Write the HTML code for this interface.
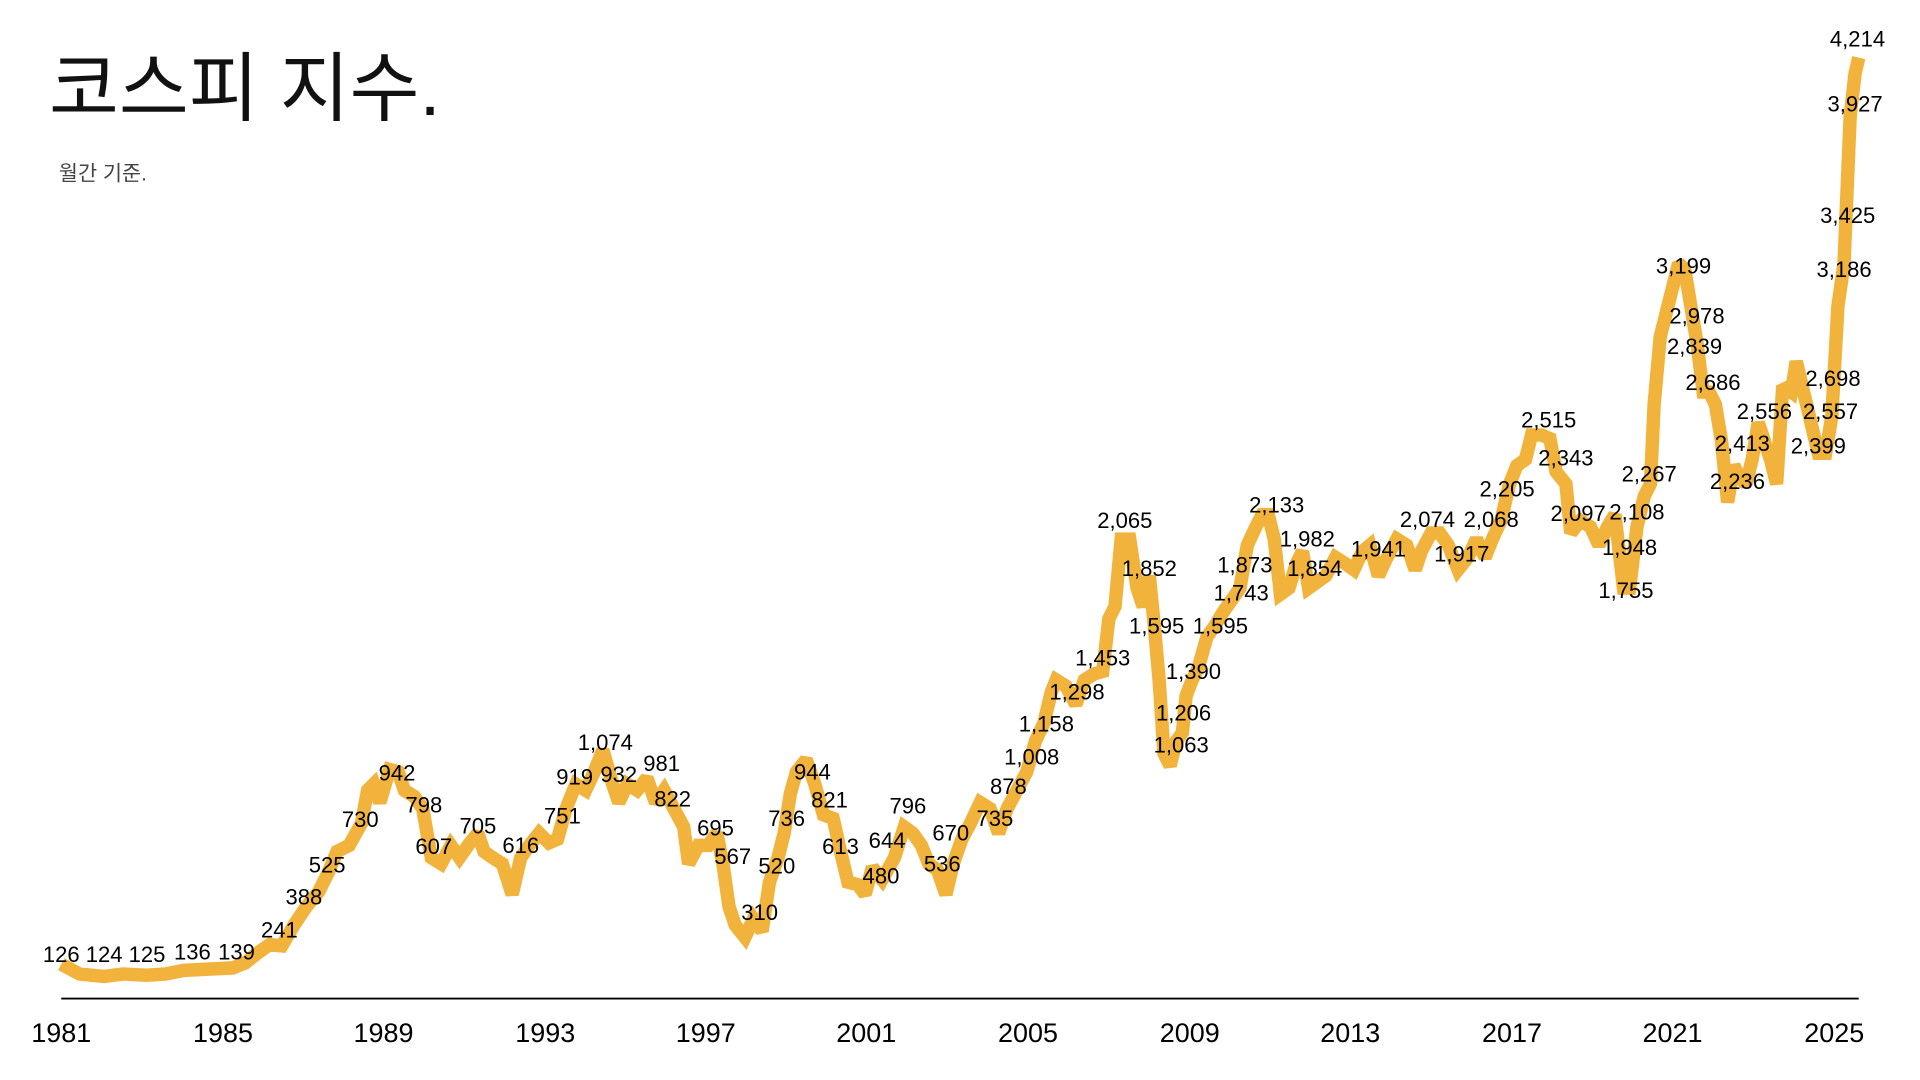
<!DOCTYPE html>
<html><head><meta charset="utf-8"><style>
html,body{margin:0;padding:0;background:#fff;width:1920px;height:1080px;overflow:hidden}
svg{display:block}
text{font-family:"Liberation Sans","Noto Sans CJK KR",sans-serif}
</style></head><body>
<svg width="1920" height="1080" viewBox="0 0 1567 881.5" preserveAspectRatio="none" xmlns="http://www.w3.org/2000/svg">
<text x="40" y="73" font-size="62" dominant-baseline="central" font-family="'Noto Sans CJK KR',sans-serif" fill="#111">코스피 지수.</text>
<text x="48" y="142" font-size="17" dominant-baseline="central" fill="#444" font-family="'Noto Sans CJK KR',sans-serif">월간 기준.</text>
<line x1="50" y1="815" x2="1517" y2="815" stroke="#000" stroke-width="1.5"/>
<g font-size="22" text-anchor="middle" dominant-baseline="central" fill="#000">
<text x="50" y="843">1981</text><text x="182" y="843">1985</text><text x="313" y="843">1989</text><text x="445" y="843">1993</text><text x="576" y="843">1997</text><text x="707" y="843">2001</text><text x="839" y="843">2005</text><text x="971" y="843">2009</text><text x="1102" y="843">2013</text><text x="1234" y="843">2017</text><text x="1365" y="843">2021</text><text x="1497" y="843">2025</text>
</g>
<polyline fill="none" stroke="#F2B33D" stroke-width="11" stroke-linejoin="miter" stroke-miterlimit="2" points="50,787 65,795 85,797 100,795 120,796 135,795 150,792 170,791 190,790 200,786 210,778 220,771 230,772 240,755 250,740 260,728 268,712 275,695 285,690 295,672 300,645 305,640 310,655 318,628 325,630 330,645 338,650 345,660 352,700 360,705 368,690 375,700 382,690 390,680 395,695 402,700 410,705 418,730 425,700 432,690 440,680 448,688 455,685 462,660 470,640 478,645 485,630 492,612 500,640 505,655 512,640 520,645 528,635 535,655 542,645 550,660 558,675 562,705 570,690 578,690 585,680 590,705 595,740 600,755 608,765 615,750 622,760 628,720 635,700 640,680 645,648 650,630 658,620 665,640 672,665 680,668 686,695 692,720 700,722 706,730 712,708 720,718 730,700 738,675 745,680 752,690 758,705 765,710 772,730 778,705 785,685 792,672 800,655 808,660 815,680 822,660 830,645 838,630 845,605 852,590 858,565 862,555 870,560 878,575 885,555 893,550 900,548 905,505 910,495 915,440 922,440 928,480 933,495 938,470 942,510 946,555 950,615 955,625 960,605 965,598 968,568 973,555 978,545 985,520 992,510 998,500 1005,490 1012,480 1018,445 1025,430 1030,420 1035,420 1040,440 1045,485 1052,480 1058,460 1063,450 1068,480 1075,475 1082,470 1090,455 1098,460 1105,465 1112,450 1118,445 1125,470 1132,455 1140,440 1148,445 1155,465 1160,450 1168,435 1175,435 1182,445 1190,465 1198,455 1205,440 1212,455 1218,440 1225,425 1232,395 1238,380 1245,375 1250,355 1258,355 1265,358 1270,385 1278,395 1282,435 1290,425 1298,430 1305,445 1312,430 1318,420 1325,480 1330,480 1336,430 1342,405 1347,395 1350,330 1355,275 1360,255 1365,235 1370,215 1375,220 1380,250 1385,280 1390,320 1395,320 1400,330 1405,360 1410,410 1415,380 1420,390 1425,395 1430,375 1435,345 1440,360 1445,375 1450,395 1455,315 1462,320 1466,295 1472,320 1478,345 1484,370 1490,370 1495,340 1500,250 1505,215 1510,95 1514,60 1517,47"/>
<g font-size="18" text-anchor="middle" dominant-baseline="central" fill="#000">
<text x="50" y="779">126</text><text x="85" y="779">124</text><text x="120" y="779">125</text><text x="157" y="777">136</text><text x="193" y="777">139</text>
<text x="228" y="759">241</text><text x="248" y="732">388</text><text x="267" y="706">525</text><text x="294" y="669">730</text><text x="324" y="631">942</text><text x="346" y="657">798</text><text x="354" y="691">607</text><text x="390" y="674">705</text><text x="425" y="690">616</text><text x="459" y="666">751</text><text x="469" y="634">919</text><text x="494" y="606">1,074</text><text x="505" y="632">932</text><text x="540" y="623">981</text><text x="549" y="652">822</text><text x="584" y="676">695</text><text x="598" y="699">567</text><text x="620" y="745">310</text><text x="634" y="707">520</text><text x="642" y="668">736</text><text x="663" y="630">944</text><text x="677" y="653">821</text><text x="686" y="691">613</text><text x="719" y="715">480</text><text x="724" y="686">644</text><text x="741" y="658">796</text><text x="769" y="705">536</text><text x="776" y="680">670</text><text x="812" y="668">735</text><text x="823" y="642">878</text><text x="842" y="618">1,008</text><text x="854" y="591">1,158</text><text x="879" y="565">1,298</text><text x="900" y="537">1,453</text><text x="918" y="425">2,065</text><text x="938" y="464">1,852</text><text x="944" y="511">1,595</text><text x="966" y="582">1,206</text><text x="964" y="608">1,063</text><text x="974" y="548">1,390</text><text x="996" y="511">1,595</text><text x="1013" y="484">1,743</text><text x="1016" y="461">1,873</text><text x="1042" y="412">2,133</text><text x="1067" y="440">1,982</text><text x="1073" y="464">1,854</text><text x="1125" y="448">1,941</text><text x="1165" y="424">2,074</text><text x="1193" y="452">1,917</text><text x="1217" y="424">2,068</text><text x="1230" y="399">2,205</text><text x="1264" y="343">2,515</text><text x="1278" y="374">2,343</text><text x="1288" y="419">2,097</text><text x="1336" y="418">2,108</text><text x="1330" y="447">1,948</text><text x="1327" y="482">1,755</text><text x="1346" y="387">2,267</text><text x="1374" y="217">3,199</text><text x="1385" y="258">2,978</text><text x="1383" y="283">2,839</text><text x="1398" y="312">2,686</text><text x="1422" y="362">2,413</text><text x="1418" y="393">2,236</text><text x="1440" y="336">2,556</text><text x="1496" y="309">2,698</text><text x="1494" y="336">2,557</text><text x="1484" y="364">2,399</text><text x="1505" y="220">3,186</text><text x="1508" y="176">3,425</text><text x="1514" y="85">3,927</text><text x="1516" y="32">4,214</text>
</g>
</svg>
</body></html>
